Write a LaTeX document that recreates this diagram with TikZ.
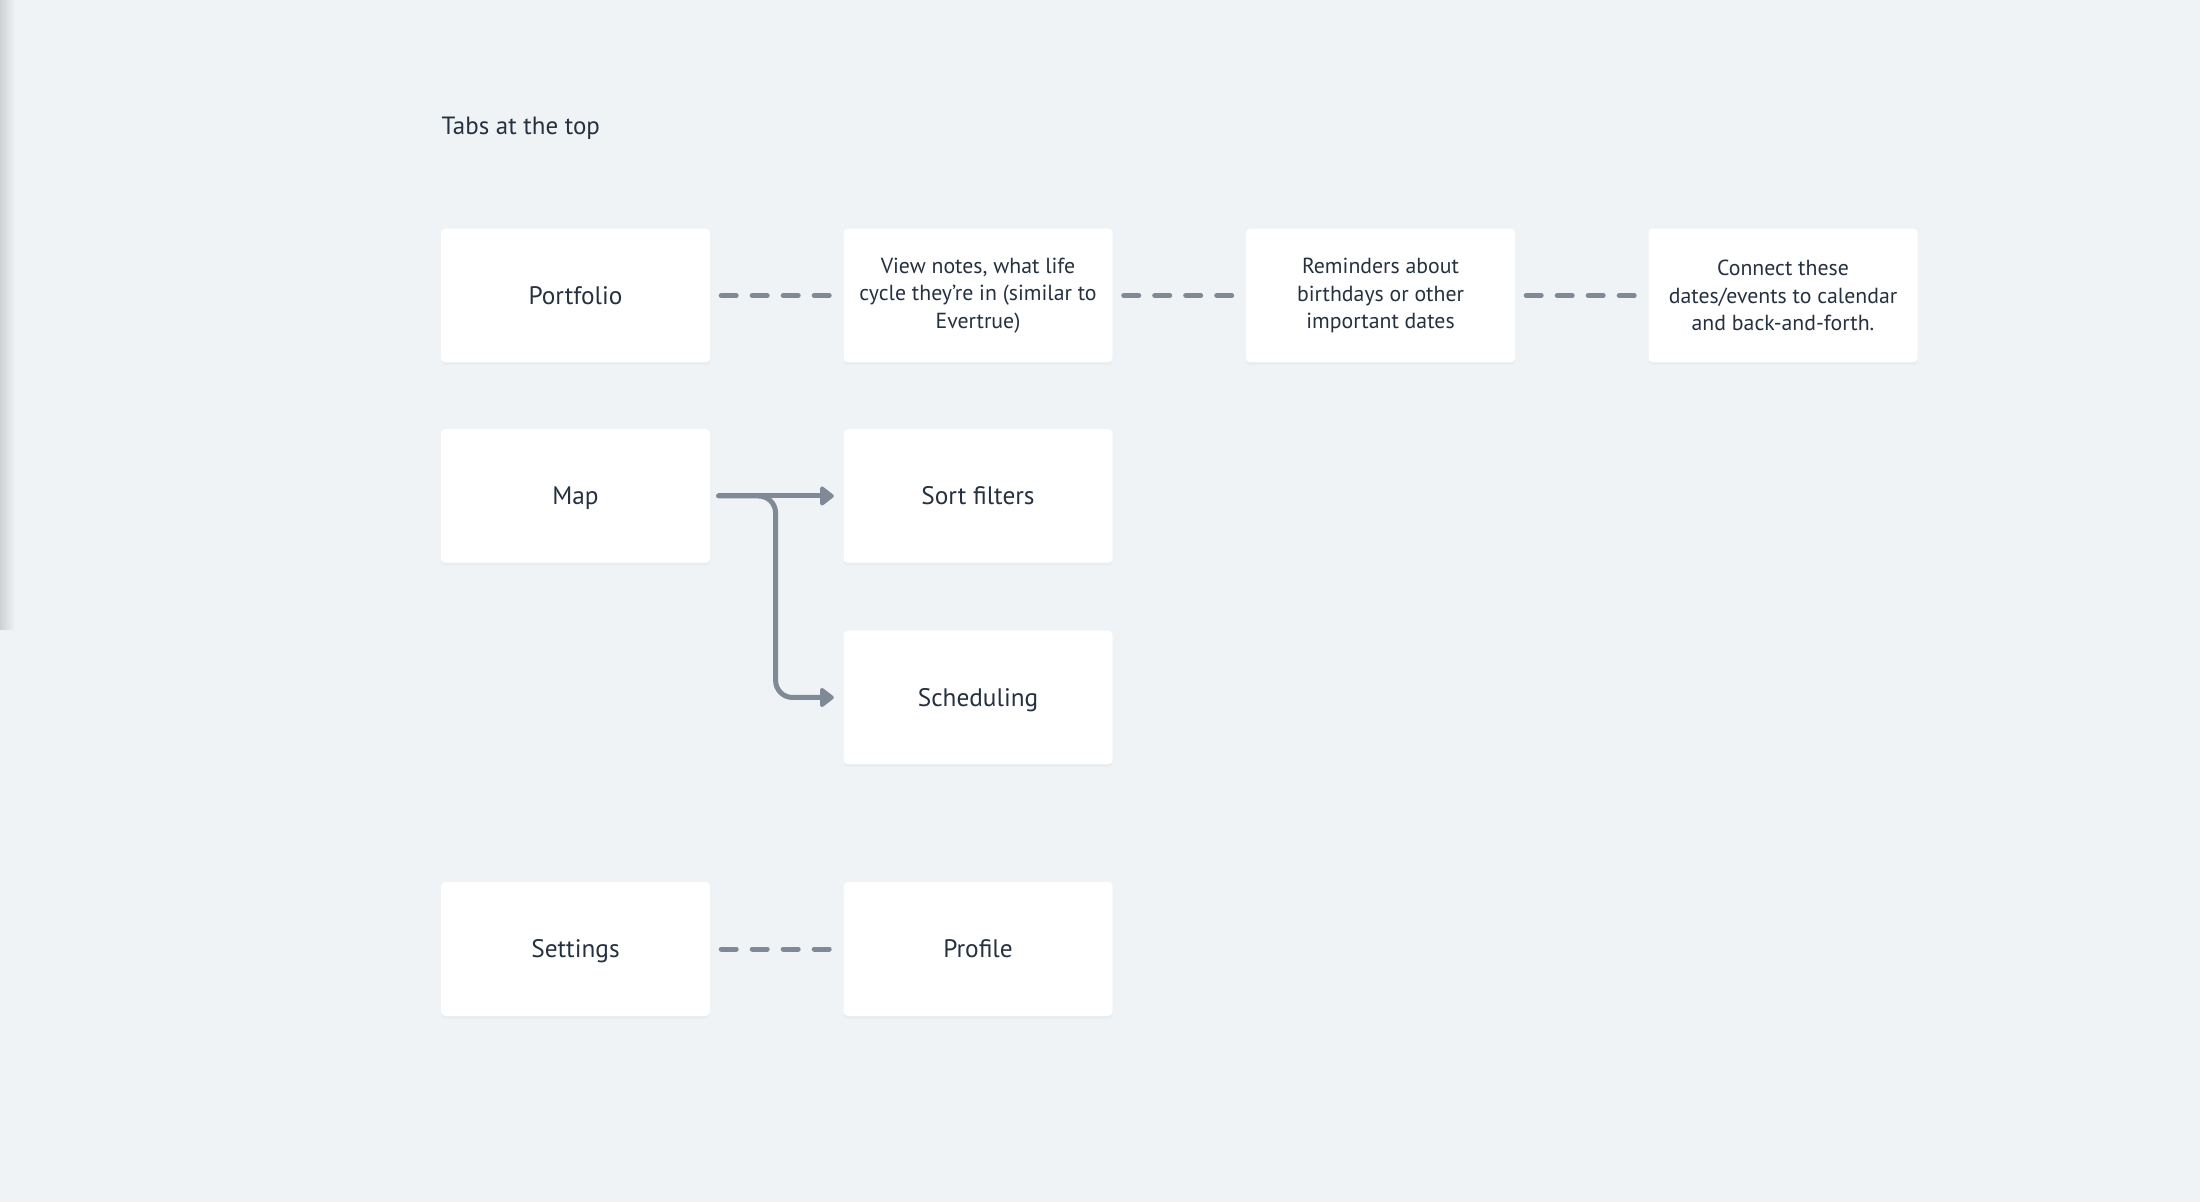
\documentclass[tikz,border=0pt]{standalone}
\usepackage{fontspec}
\setmainfont{PT Sans}
\usetikzlibrary{arrows.meta,shadows}
\definecolor{bgcol}{HTML}{EFF3F6}
\definecolor{inkcol}{HTML}{263140}
\definecolor{linkcol}{HTML}{7F8A96}
\tikzset{
  cardbase/.style={fill=white, rounded corners=0.04cm, minimum width=2.69cm, minimum height=1.335cm,
    inner sep=0pt, text=inkcol, align=center,
    drop shadow={opacity=0.05, shadow xshift=0cm, shadow yshift=-0.03cm}},
  card/.style={cardbase, font=\fontsize{7.2pt}{8pt}\selectfont, text height=5.1pt, text depth=0pt},
  notecard/.style={cardbase, font=\fontsize{6.2pt}{7.9pt}\selectfont},
  dashlink/.style={draw=linkcol, line width=0.05cm, line cap=round, dash pattern=on 0.15cm off 0.16cm,
    shorten <=0.105cm, shorten >=0.135cm},
  arrowlink/.style={draw=linkcol, line width=0.05cm, line cap=round, line join=round,
    -{Triangle[length=0.15cm, width=0.22cm, round]}, shorten <=0.08cm, shorten >=0.09cm}
}
\begin{document}
\begin{tikzpicture}
\fill[bgcol] (0,0) rectangle (22,-12.02);
\useasboundingbox (0,0) rectangle (22,-12.02);
\fill[left color=black!14!bgcol, right color=bgcol, draw=none] (0,0) rectangle (0.15,-6.3);

\node[anchor=base west, text=inkcol, font=\fontsize{7.1pt}{8pt}\selectfont, inner sep=0pt] (title) at (4.41,-1.35) {Tabs at the top};

\node[card] (portfolio) at (5.755,-2.955) {Portfolio};
\node[notecard] (notes) at (9.78,-2.955) {View notes, what life\\cycle they're in (similar to\\Evertrue)};
\node[notecard] (reminders) at (13.805,-2.955) {Reminders about\\birthdays or other\\important dates};
\node[notecard] (calendar) at (17.83,-2.955) {Connect these\\dates/events to calendar\\and back-and-forth.};

\node[card] (map) at (5.755,-4.96) {Map};
\node[card] (sort) at (9.78,-4.96) {Sort filters};
\node[card] (sched) at (9.78,-6.975) {Scheduling};

\node[card] (settings) at (5.755,-9.49) {Settings};
\node[card] (profile) at (9.78,-9.49) {Profile};

\coordinate (split) at (7.756,-4.96);

\draw[dashlink] (portfolio) -- (notes);
\draw[dashlink] (notes) -- (reminders);
\draw[dashlink] (reminders) -- (calendar);
\draw[dashlink] (settings) -- (profile);

\draw[arrowlink] (map) -- (sort);
\draw[arrowlink, rounded corners=0.17cm] (map.east) -| (split |- sched) -- (sched.west);
\end{tikzpicture}
\end{document}
